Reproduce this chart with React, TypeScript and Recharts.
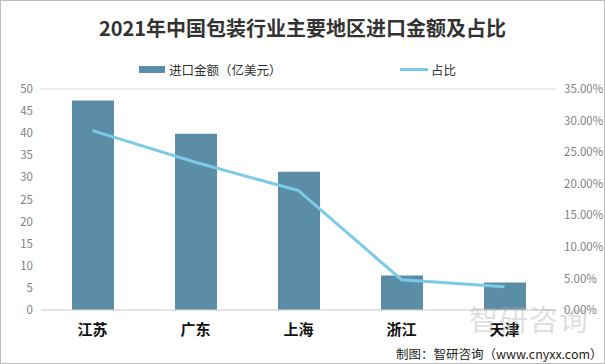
import { ComposedChart, Bar, Line, XAxis, YAxis, CartesianGrid } from "recharts";

const regions = ["江苏", "广东", "上海", "浙江", "天津"];
const amounts = [47.4, 39.9, 31.3, 7.8, 6.2];
const shares = [28.4, 23.4, 18.9, 4.8, 3.7];
const leftTicks = [0, 5, 10, 15, 20, 25, 30, 35, 40, 45, 50];
const rightTicks = [0, 5, 10, 15, 20, 25, 30, 35];

const data = regions.map((name, i) => ({ name, amount: amounts[i], share: shares[i] }));

const BAR = "#5b8ea6";
const LINE = "#7ccbe6";

export default function App() {
  return (
    <div
      style={{
        position: "absolute",
        left: 0,
        top: 0,
        width: 605,
        height: 364,
        background: "#fff",
        fontFamily: "'Noto Sans CJK SC', sans-serif",
        boxSizing: "border-box",
        border: "1px solid #bdbdbd",
        overflow: "hidden",
      }}
    >
      <div
        style={{
          position: "absolute",
          top: 12,
          width: "100%",
          textAlign: "center",
          fontSize: 20,
          fontWeight: 700,
          color: "#333",
        }}
      >
        2021年中国包装行业主要地区进口金额及占比
      </div>
      {/* legend */}
      <div style={{ position: "absolute", left: 138, top: 59, display: "flex", alignItems: "center", fontSize: 12.5, color: "#333" }}>
        <span style={{ width: 26, height: 7, background: BAR, marginRight: 4 }} />
        <span>进口金额（亿美元）</span>
      </div>
      <div style={{ position: "absolute", left: 399, top: 59, display: "flex", alignItems: "center", fontSize: 12.5, color: "#333" }}>
        <span style={{ width: 28, height: 3, background: LINE, marginRight: 3 }} />
        <span>占比</span>
      </div>
      <div style={{ position: "absolute", left: -1, top: -1 }}>
        <ComposedChart width={605} height={364} data={data} margin={{ top: 89, right: 0, bottom: 24, left: 0 }}>
          <CartesianGrid vertical={false} stroke="#d9d9d9" />
          <XAxis
            dataKey="name"
            axisLine={{ stroke: "#d9d9d9" }}
            tickLine={false}
            height={30}
            tick={{ fill: "#111", fontSize: 15, fontWeight: 700 }}
            dy={6}
          />
          <YAxis
            yAxisId="left"
            domain={[0, 50]}
            ticks={leftTicks}
            width={41}
            axisLine={false}
            tickLine={false}
            tick={{ fill: "#7f7f7f", fontSize: 11.5 }}
          />
          <YAxis
            yAxisId="right"
            orientation="right"
            domain={[0, 35]}
            ticks={rightTicks}
            width={49}
            axisLine={false}
            tickLine={false}
            tickFormatter={(v: number) => `${v.toFixed(2)}%`}
            tick={{ fill: "#7f7f7f", fontSize: 11.5 }}
          />
          <Bar yAxisId="left" dataKey="amount" fill={BAR} barSize={42} isAnimationActive={false} />
          <Line
            yAxisId="right"
            dataKey="share"
            stroke={LINE}
            strokeWidth={3}
            dot={false}
            isAnimationActive={false}
          />
        </ComposedChart>
      </div>
      {/* watermark */}
      <div
        style={{
          position: "absolute",
          left: 468,
          top: 296,
          fontSize: 29,
          color: "rgba(170,170,170,0.4)",
          letterSpacing: 1,
        }}
      >
        智研咨询
      </div>
      <div
        style={{
          position: "absolute",
          left: 395,
          top: 343,
          fontSize: 12.5,
          color: "#222",
          whiteSpace: "nowrap",
        }}
      >
        制图：智研咨询（www.cnyxx.com）
      </div>
    </div>
  );
}
